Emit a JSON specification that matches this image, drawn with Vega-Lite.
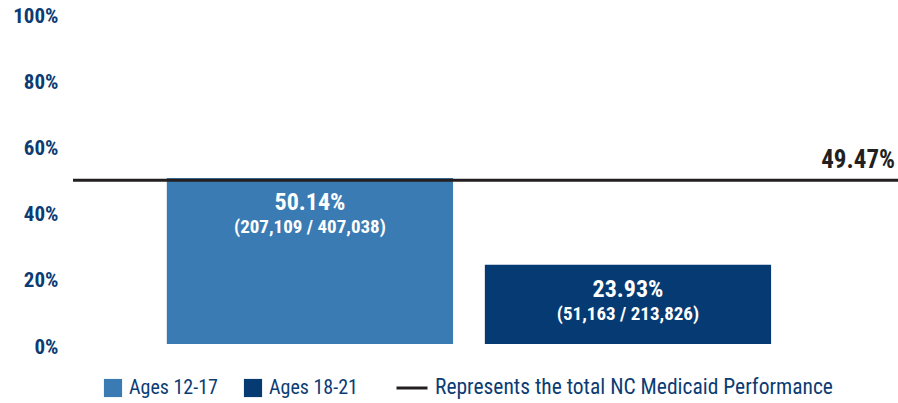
{
  "$schema": "https://vega.github.io/schema/vega-lite/v6.json",
  "autosize": "none",
  "width": 825,
  "height": 331,
  "padding": {"left": 73, "top": 13, "right": 0, "bottom": 59},
  "background": "white",
  "config": {
    "view": {"stroke": null},
    "font": "Roboto Condensed, DejaVu Sans Condensed, Roboto",
    "axis": {"labelFont": "Roboto Condensed, DejaVu Sans Condensed, Roboto"},
    "legend": {"labelFont": "Roboto Condensed, DejaVu Sans Condensed, Roboto"}
  },
  "datasets": {
    "bars": [
      {"group": "Ages 12-17", "rate": 50.14, "label": "50.14%", "detail": "(207,109 / 407,038)"},
      {"group": "Ages 18-21", "rate": 23.93, "label": "23.93%", "detail": "(51,163 / 213,826)"}
    ],
    "bench": [
      {"name": "Represents the total NC Medicaid Performance", "value": 49.47, "label": "49.47%"}
    ]
  },
  "layer": [
    {
      "data": {"name": "bars"},
      "mark": {"type": "bar"},
      "encoding": {
        "x": {"field": "group", "type": "nominal", "axis": null,
              "scale": {"paddingInner": 0.1, "paddingOuter": 0.347, "align": 0.425}},
        "y": {"field": "rate", "type": "quantitative",
              "scale": {"domain": [0, 100], "nice": false},
              "axis": {"values": [0, 20, 40, 60, 80, 100], "labelExpr": "datum.value + '%'",
                       "title": null, "grid": false, "domain": false, "ticks": false,
                       "labelFontSize": 21, "labelFontWeight": "bold", "labelColor": "#0b3c73",
                       "labelPadding": 15, "labelOffset": 3}},
        "fill": {"field": "group", "type": "nominal",
                 "scale": {"domain": ["Ages 12-17", "Ages 18-21"], "range": ["#3b7bb3", "#053a73"]},
                 "legend": {"title": null, "orient": "none", "legendX": 30, "legendY": 365,
                            "direction": "horizontal", "symbolType": "square", "symbolSize": 330,
                            "symbolStrokeWidth": 0, "labelFontSize": 20, "labelColor": "#0b3c73",
                            "labelOffset": 6, "columnPadding": 25, "labelLimit": 500}}
      }
    },
    {
      "data": {"name": "bars"},
      "mark": {"type": "text", "color": "white", "fontSize": 24, "fontWeight": "bold", "baseline": "middle", "dy": 25},
      "encoding": {
        "x": {"field": "group", "type": "nominal"},
        "y": {"field": "rate", "type": "quantitative"},
        "text": {"field": "label"}
      }
    },
    {
      "data": {"name": "bars"},
      "mark": {"type": "text", "color": "white", "fontSize": 19, "fontWeight": "bold", "baseline": "middle", "dy": 49},
      "encoding": {
        "x": {"field": "group", "type": "nominal"},
        "y": {"field": "rate", "type": "quantitative"},
        "text": {"field": "detail"}
      }
    },
    {
      "data": {"name": "bench"},
      "mark": {"type": "rule", "strokeWidth": 3},
      "encoding": {
        "y": {"field": "value", "type": "quantitative"},
        "stroke": {"field": "name", "type": "nominal",
                   "scale": {"range": ["#231f20"]},
                   "legend": {"title": null, "orient": "none", "legendX": 322, "legendY": 358,
                              "symbolType": "stroke", "symbolSize": 961, "symbolStrokeWidth": 3,
                              "labelFontSize": 21.5, "labelColor": "#0b3c73", "labelOffset": 6, "labelLimit": 600}}
      }
    },
    {
      "data": {"name": "bench"},
      "mark": {"type": "text", "color": "#231f20", "fontSize": 25, "fontWeight": "bold",
               "align": "right", "baseline": "middle", "dy": -20, "dx": -3},
      "encoding": {
        "x": {"value": "width"},
        "y": {"field": "value", "type": "quantitative"},
        "text": {"field": "label"}
      }
    }
  ]
}
